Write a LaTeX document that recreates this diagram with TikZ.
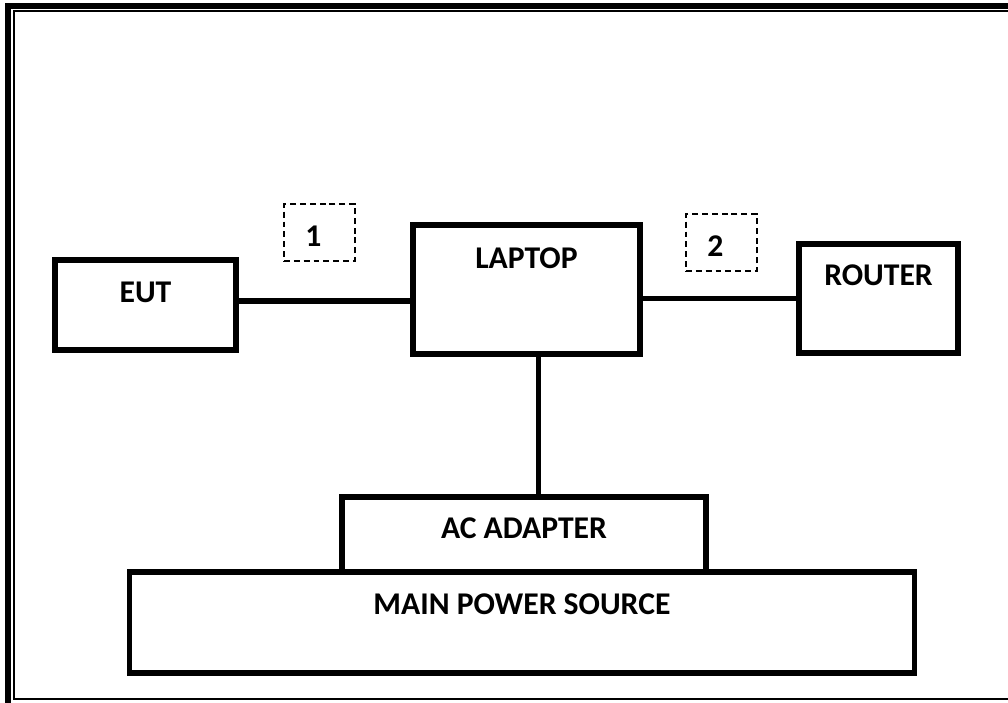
\documentclass[tikz,border=0pt]{standalone}
\usepackage{fontspec}
\setmainfont{Carlito}
\usetikzlibrary{positioning}
\tikzset{
  unit/.style={draw, line width=1.5pt, inner sep=0pt},
  tagbox/.style={draw, line width=0.5pt, dash pattern=on 1.7pt off 1.1pt, minimum width=0.71cm, minimum height=0.57cm, inner sep=0pt},
  boxtext/.style={anchor=base, inner sep=0pt, font=\bfseries\fontsize{9}{11}\selectfont},
  tagtext/.style={inner sep=0pt, font=\bfseries\fontsize{9}{11}\selectfont},
  wire/.style={line width=1.5pt}
}
\begin{document}
\begin{tikzpicture}[x={(0.01cm,0cm)},y={(0cm,-0.01cm)}]
\useasboundingbox (0,0) rectangle (1008,702);
%外框
\draw[line width=1.9pt] (8,6) rectangle (1040,740);
\draw[line width=0.6pt] (14,11) rectangle (1040,699);

%設備
\node[unit, minimum width=1.81cm, minimum height=0.90cm] (eut) at (145.5,305) {};
\node[unit, minimum width=2.27cm, minimum height=1.29cm] (laptop) at (526.5,289.5) {};
\node[unit, minimum width=1.59cm, minimum height=1.09cm] (router) at (878.5,298.5) {};
\node[unit, minimum width=3.64cm, minimum height=0.75cm] (adapter) at (524,534.5) {};
\node[unit, minimum width=7.84cm, minimum height=1.01cm] (mains) at (522,622.5) {};

\node[boxtext] (euttext) at ([yshift=-0.45cm]eut.north) {EUT};
\node[boxtext] (laptoptext) at ([yshift=-0.46cm]laptop.north) {LAPTOP};
\node[boxtext] (routertext) at ([yshift=-0.44cm]router.north) {ROUTER};
\node[boxtext] (adaptertext) at ([yshift=-0.44cm]adapter.north) {AC ADAPTER};
\node[boxtext] (mainstext) at ([yshift=-0.45cm]mains.north) {MAIN POWER SOURCE};

%線纜編號
\node[tagbox] (one) at (319.5,232.5) {};
\node[tagbox] (two) at (721.5,242.5) {};
\node[tagtext] (onetext) at ([xshift=-0.06cm,yshift=-0.04cm]one.center) {1};
\node[tagtext] (twotext) at ([xshift=-0.06cm,yshift=-0.04cm]two.center) {2};

%連線
\coordinate (p1) at ([yshift=0.04cm]eut.east);
\draw[wire] (p1) -- (p1 -| laptop.west);
\draw[wire] (laptop.east |- router.west) -- (router.west);
\coordinate (p3) at ([xshift=0.12cm]laptop.south);
\draw[wire] (p3) -- (p3 |- adapter.north);

\end{tikzpicture}
\end{document}
